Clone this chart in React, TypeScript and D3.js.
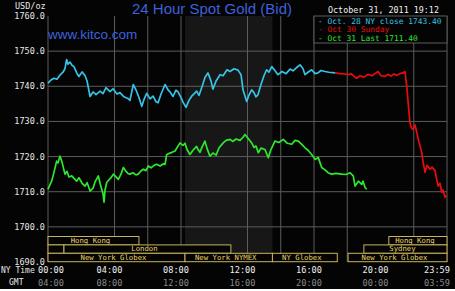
import React from "react";
import * as d3 from "d3";

// ---- data ----
const yTicks = [1690, 1700, 1710, 1720, 1730, 1740, 1750, 1760];
const xGridHours = [4, 6, 8, 12, 14, 16, 18, 22, 24];
const nyTickHours = [0, 4, 8, 12, 16, 20, 24];
const nyTickLabels = ["00:00", "04:00", "08:00", "12:00", "16:00", "20:00", "23:59"];
const gmtTickLabels = ["04:00", "08:00", "12:00", "16:00", "20:00", "00:00", "03:59"];

const oct28Hours = [0.00,0.18,0.36,0.54,0.72,0.90,1.02,1.12,1.20,1.32,1.44,1.56,1.73,1.86,2.05,2.23,2.35,2.53,2.71,2.89,3.13,3.31,3.49,3.73,3.91,4.15,4.33,4.57,4.81,4.93,5.13,5.29,5.47,5.64,5.77,5.94,6.14,6.32,6.50,6.62,6.80,7.04,7.22,7.34,7.52,7.70,7.82,8.00,8.12,8.30,8.48,8.66,8.94,9.08,9.26,9.44,9.62,9.80,9.92,10.11,10.35,10.53,10.77,10.95,11.19,11.43,11.61,11.73,11.95,12.09,12.25,12.39,12.51,12.63,12.81,12.99,13.15,13.29,13.46,13.65,13.83,14.08,14.32,14.56,14.74,14.92,15.16,15.34,15.46,15.64,15.86,16.06,16.24,16.42,16.66,16.90,17.26];
const oct28Values = [1740.9,1741.8,1742.3,1742.0,1743.2,1744.0,1745.0,1747.6,1746.3,1746.9,1746.0,1745.6,1743.8,1742.8,1744.1,1743.0,1741.5,1737.1,1738.4,1737.6,1738.6,1737.9,1739.6,1738.5,1739.3,1737.8,1738.2,1737.0,1736.5,1736.0,1740.5,1739.0,1736.8,1734.3,1736.2,1738.0,1736.4,1737.2,1735.6,1735.3,1737.8,1740.5,1739.0,1738.4,1737.1,1738.9,1738.4,1736.8,1735.5,1734.0,1736.0,1737.3,1738.6,1737.4,1739.8,1742.5,1743.8,1741.6,1739.2,1741.5,1743.3,1743.0,1744.7,1744.2,1745.0,1744.6,1743.3,1739.0,1735.7,1737.5,1739.0,1738.2,1737.0,1737.6,1740.5,1743.0,1744.7,1744.0,1745.6,1744.5,1743.3,1744.2,1743.6,1744.9,1744.4,1745.2,1746.1,1745.0,1743.3,1744.0,1744.7,1743.6,1743.8,1744.5,1744.2,1744.0,1743.8];

const oct30Hours = [17.26,17.56,17.86,18.06,18.23,18.41,18.57,18.77,19.01,19.25,19.49,19.67,19.85,20.03,20.26,20.45,20.63,20.81,20.99,21.17,21.35,21.47,21.58,21.65,21.77,21.86,21.95,22.08,22.20,22.32,22.48,22.56,22.68,22.80,22.98,23.10,23.28,23.40,23.46,23.58,23.68,23.76,23.88,23.98];
const oct30Values = [1743.8,1743.6,1743.5,1743.3,1743.6,1742.8,1742.3,1743.0,1742.6,1743.4,1743.0,1743.6,1744.2,1743.0,1742.8,1743.4,1742.9,1743.5,1743.1,1743.6,1743.8,1744.2,1740.0,1736.0,1729.7,1728.2,1727.7,1729.0,1726.5,1724.0,1721.2,1718.5,1715.5,1717.5,1716.4,1717.0,1716.0,1713.0,1711.6,1712.4,1709.8,1710.5,1708.4,1709.0];

const oct31Hours = [0.00,0.12,0.22,0.36,0.52,0.60,0.72,0.84,1.02,1.14,1.26,1.43,1.56,1.73,1.86,2.05,2.23,2.35,2.53,2.71,2.83,3.03,3.13,3.23,3.31,3.37,3.43,3.53,3.67,3.79,3.93,4.09,4.23,4.39,4.53,4.69,4.81,4.93,5.11,5.29,5.43,5.59,5.73,5.89,6.03,6.20,6.38,6.54,6.74,6.92,7.04,7.14,7.28,7.46,7.64,7.76,7.94,8.12,8.24,8.36,8.54,8.72,8.94,9.02,9.14,9.26,9.44,9.56,9.74,9.92,10.11,10.29,10.54,10.71,10.95,11.13,11.31,11.55,11.73,11.85,12.03,12.25,12.39,12.51,12.65,12.81,13.05,13.25,13.41,13.65,13.89,14.15,14.38,14.66,14.86,15.06,15.28,15.46,15.64,15.86,16.06,16.26,16.46,16.66,16.84,17.06,17.32,17.67,17.92,18.17,18.36,18.47,18.67,18.87,18.95,19.07,19.17];
const oct31Values = [1710.7,1712.0,1713.0,1715.5,1718.7,1718.2,1720.1,1718.5,1715.0,1715.8,1714.2,1714.5,1713.8,1713.0,1714.0,1712.4,1711.6,1712.6,1710.2,1711.0,1712.8,1714.5,1712.4,1710.7,1709.4,1707.0,1710.5,1712.6,1713.4,1714.0,1715.0,1714.2,1713.5,1715.0,1716.9,1715.8,1715.2,1715.0,1715.4,1714.8,1715.0,1715.9,1716.4,1716.0,1717.3,1716.8,1717.5,1717.8,1717.3,1717.9,1717.8,1720.6,1720.9,1721.2,1721.6,1722.5,1723.9,1723.2,1723.8,1722.0,1720.6,1721.8,1722.9,1722.0,1721.2,1722.6,1724.4,1722.4,1720.1,1721.0,1720.4,1722.5,1723.9,1724.6,1724.9,1724.3,1725.0,1724.6,1725.5,1726.3,1725.2,1723.9,1722.6,1723.0,1721.1,1722.4,1722.0,1719.7,1722.0,1724.4,1724.0,1724.9,1723.8,1723.5,1724.6,1724.4,1723.4,1722.5,1721.8,1720.6,1719.2,1719.7,1716.9,1716.2,1715.4,1715.0,1715.2,1715.0,1714.9,1715.4,1714.5,1711.6,1713.0,1712.1,1713.0,1711.2,1710.7];

const legendLabels = ["- Oct. 28 NY close 1743.40", "- Oct 30 Sunday", "- Oct 31 Last 1711.40"];

// trading sessions: row, start hour, end hour, label
const sessionRows = [0, 0, 1, 1, 1, 2, 2, 2, 2];
const sessionStarts = [0, 20.5, 0, 0.96, 19.0, 0, 8.24, 13.5, 18.05];
const sessionEnds = [5.47, 24, 0.96, 11.0, 24, 8.24, 13.5, 17.4, 24];
const sessionLabels = ["Hong Kong", "Hong Kong", "", "London", "Sydney", "New York Globex", "New York NYMEX", "NY Globex", "New York Globex"];

const nymexStart = 8.24;
const nymexEnd = 13.5;

export default function App() {
  const W = 455, H = 291;
  const left = 48, right = 447, top = 16, bottom = 262;
  const x = d3.scaleLinear().domain([0, 24]).range([left, right]);
  const y = d3.scaleLinear().domain([1690, 1760]).range([bottom, top]);
  const line = d3.line<[number, number]>().x(d => x(d[0])).y(d => y(d[1]));
  const mk = (hs: number[], vs: number[]) => hs.map((h, i) => [h, vs[i]] as [number, number]);

  const gridColor = "#5c5c5c";
  const mono = "'DejaVu Sans Mono', monospace";
  const sessColor = "#c8b45a";
  const rowTop = 236.5, rowH = 8.4;

  const series = [
    { d: mk(oct28Hours, oct28Values), c: "#35c3e6" },
    { d: mk(oct30Hours, oct30Values), c: "#e80c0c" },
    { d: mk(oct31Hours, oct31Values), c: "#2ee82e" },
  ];
  const legendColors = ["#35c3e6", "#e80c0c", "#2ee82e"];

  return (
    <svg width={W} height={H} style={{ position: "absolute", left: 0, top: 0, background: "#fff" }}>
      <rect x={0} y={0} width={W} height={289} fill="#040404" />
      {/* NYMEX shading */}
      <rect x={x(nymexStart)} y={top} width={x(nymexEnd) - x(nymexStart)} height={bottom - top} fill="#171717" />
      {/* horizontal grid */}
      {yTicks.slice(1, -1).map(v => (
        <line key={"h" + v} x1={left} x2={right} y1={y(v)} y2={y(v)} stroke={gridColor} strokeWidth={1} />
      ))}
      {/* vertical grid */}
      <line x1={left} x2={left} y1={top} y2={bottom} stroke={gridColor} />
      {xGridHours.map(h => (
        <line key={"v" + h} x1={x(h)} x2={x(h)} y1={top} y2={bottom} stroke={gridColor} />
      ))}
      {/* y labels */}
      {yTicks.map(v => (
        <text key={"yl" + v} x={45} y={y(v) + 3} textAnchor="end" fill="#e8e8e8" fontFamily={mono} fontSize={8.5}>
          {v.toFixed(1)}
        </text>
      ))}
      <text x={15} y={9} fill="#e8e8e8" fontFamily={mono} fontSize={8.5}>USD/oz</text>
      {/* sessions */}
      {sessionRows.map((r, i) => {
        const x0 = x(sessionStarts[i]), x1 = x(sessionEnds[i]);
        const yy = rowTop + r * rowH;
        return (
          <g key={"s" + i}>
            <rect x={x0} y={yy} width={x1 - x0} height={rowH} fill="#040404" stroke={sessColor} strokeWidth={1} />
            <text x={(x0 + x1) / 2 - 3} y={yy + 6.5} textAnchor="middle" fill="#e6d46a" fontFamily={mono} fontSize={7.3}>
              {sessionLabels[i]}
            </text>
          </g>
        );
      })}
      {/* series */}
      {series.map((s, i) => (
        <path key={"p" + i} d={line(s.d) || ""} fill="none" stroke={s.c} strokeWidth={1.7} strokeLinejoin="round" />
      ))}
      {/* legend */}
      <text x={328} y={13} fill="#f0f0f0" fontFamily={mono} fontSize={8.4}>October 31, 2011 19:12</text>
      <rect x={314} y={16} width={right - 314} height={27} fill="#040404" stroke={gridColor} />
      {legendLabels.map((t, i) => (
        <text key={"lg" + i} x={318} y={23.5 + i * 8.5} fill={legendColors[i]} fontFamily={mono} fontSize={7.9}>{t}</text>
      ))}
      {/* titles */}
      <text x={212} y={14} textAnchor="middle" fill="#3e60dc" fontFamily="'Liberation Sans', Arial, sans-serif" fontSize={15}>
        24 Hour Spot Gold (Bid)
      </text>
      <text x={48} y={39} fill="#3e60dc" fontFamily="'Liberation Sans', Arial, sans-serif" fontSize={13.5}>www.kitco.com</text>
      {/* x labels */}
      <text x={1} y={273} fill="#e8e8e8" fontFamily={mono} fontSize={8}>NY Time</text>
      <text x={9} y={285} fill="#e8e8e8" fontFamily={mono} fontSize={8}>GMT</text>
      {nyTickHours.map((h, i) => {
        const cx = Math.max(51, Math.min(437, x(h) - 5));
        return (
          <g key={"xt" + i}>
            <text x={cx} y={273} textAnchor="middle" fill="#f0f0f0" fontFamily={mono} fontSize={8.6}>{nyTickLabels[i]}</text>
            <text x={cx} y={286} textAnchor="middle" fill="#8a8a8a" fontFamily={mono} fontSize={8.6}>{gmtTickLabels[i]}</text>
          </g>
        );
      })}
    </svg>
  );
}
